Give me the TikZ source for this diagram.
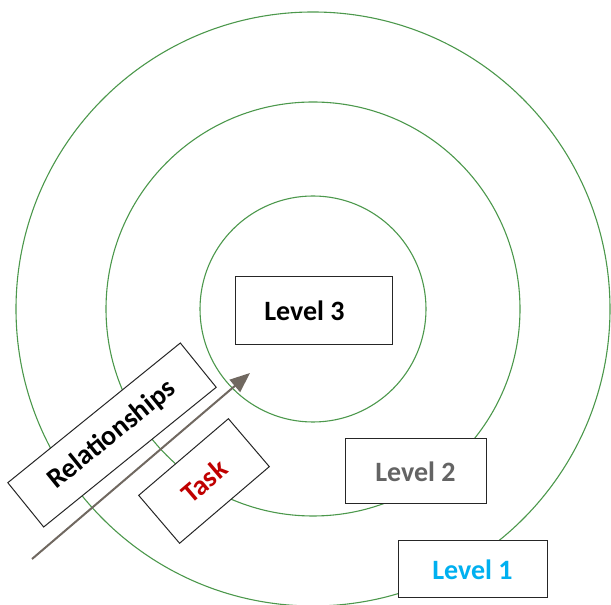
\documentclass[tikz,border=0pt]{standalone}
\usepackage{fontspec}
\setmainfont{Carlito}
\usetikzlibrary{arrows.meta}
\definecolor{ringgreen}{RGB}{76,152,76}
\definecolor{arrowgray}{RGB}{112,104,96}
\definecolor{taskred}{RGB}{192,0,0}
\definecolor{lvltwogray}{RGB}{100,100,100}
\definecolor{lvloneblue}{RGB}{0,176,240}

\begin{document}
\begin{tikzpicture}[x=1pt,y=1pt,
    ring/.style={draw=ringgreen,line width=1.1pt},
    lvlbox/.style={draw=black!85,line width=1pt,fill=white,inner sep=0pt,
      font=\fontsize{28}{30}\selectfont\bfseries}]
    \useasboundingbox (0,0) rectangle (611,605) ;
    \coordinate (c) at (313,296) ;
    \foreach \r in {297,207,113} {
      \draw[ring] (c) circle [radius=\r] ;
    }
    \node[lvlbox,minimum width=157pt,minimum height=68pt] (lvl3) at (313.5,294)
      { Level 3\hspace*{18pt} } ;
    \node[lvlbox,minimum width=141pt,minimum height=65pt,text=lvltwogray] (lvl2)
      at (415.5,133.5) { Level 2 } ;
    \node[lvlbox,minimum width=149pt,minimum height=57pt,text=lvloneblue] (lvl1)
      at (472.5,35.5) { Level 1 } ;
    \node[lvlbox,rotate=39,minimum width=222pt,minimum height=57pt] (rel)
      at (112,170) { Relationships } ;
    \node[lvlbox,rotate=40.5,minimum width=118pt,minimum height=63pt,text=taskred]
      (task) at (204,124) { Task } ;
    \coordinate (tail) at (32,46) ;
    \coordinate (head) at (250,232) ;
    \draw[arrowgray,line width=2pt,-{Triangle[length=20pt,width=16pt]}]
      (tail) -- (head) ;
  \end{tikzpicture}
\end{document}
